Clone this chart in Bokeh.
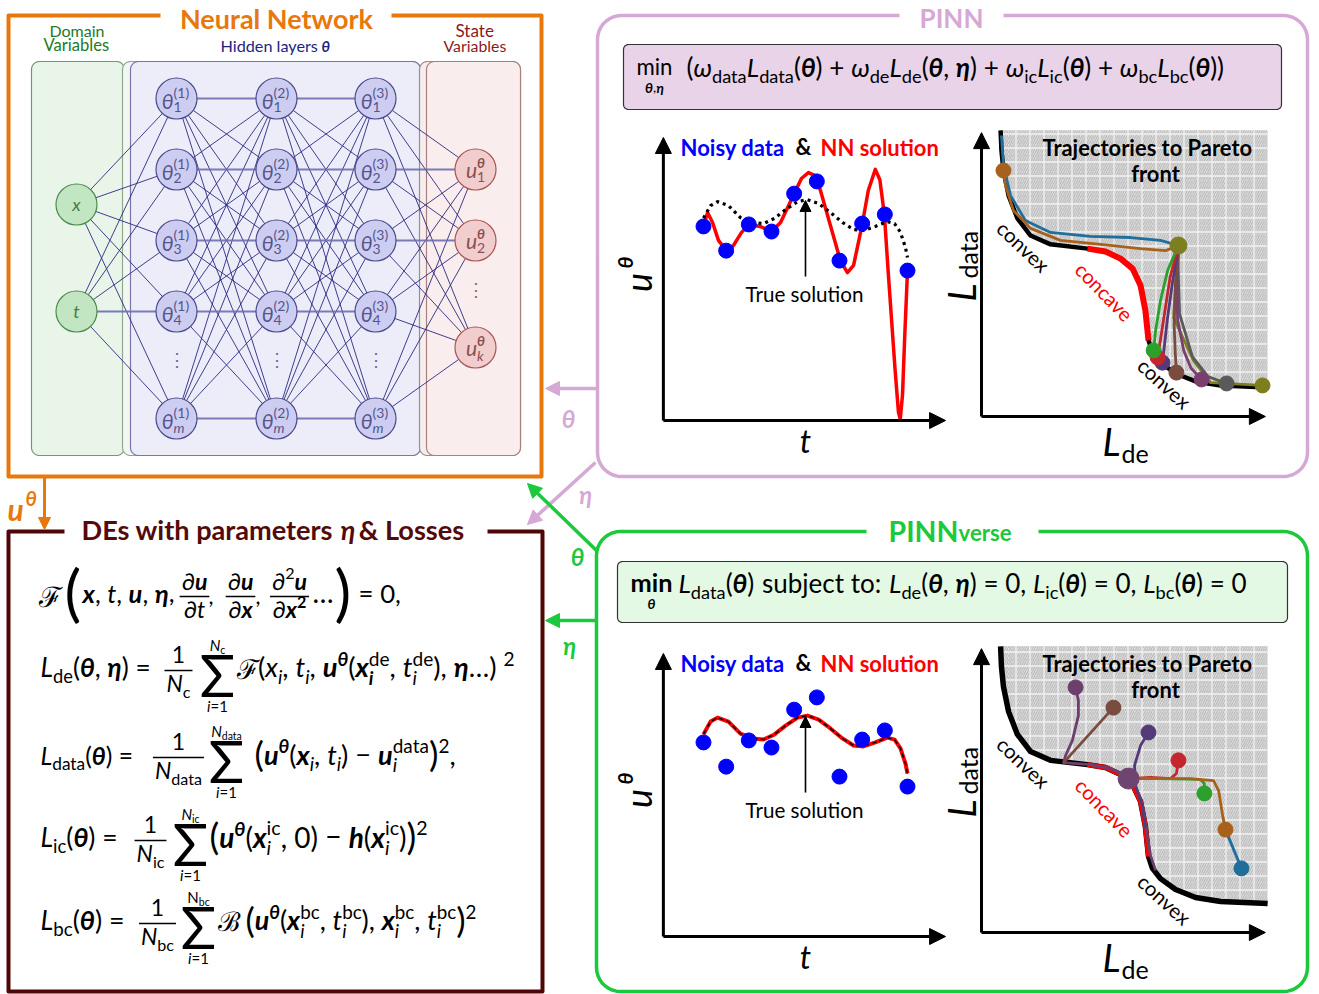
import glob
import os
import numpy as np
from bokeh.plotting import figure
from bokeh.models import Range1d, Arrow, NormalHead, ColumnDataSource
from bokeh.embed import file_html
from bokeh.resources import INLINE
from bokeh.core.properties import value, field

FONT = "Lato"
W, H, M = 1319, 994, 0

# ------------------------------------------------------------------ data
t_obs = [1, 2, 3, 4, 5, 6, 7, 8, 9, 10]
u_obs = [6.81, 5.96, 6.88, 6.63, 7.96, 8.39, 5.61, 6.91, 7.23, 5.26]

t_true = [1.00, 1.31, 1.62, 2.10, 2.63, 3.16, 3.65, 4.13, 4.62, 5.15, 5.59, 6.08,
          6.60, 7.13, 7.62, 8.06, 8.58, 9.11, 9.43, 9.69, 9.91, 10.00]
u_true = [7.10, 7.54, 7.68, 7.54, 7.12, 6.95, 6.91, 7.09, 7.40, 7.68, 7.75, 7.61,
          7.30, 6.95, 6.70, 6.67, 6.81, 6.98, 6.91, 6.60, 6.07, 5.72]

t_nn = [1.00, 1.18, 1.40, 1.66, 2.01, 2.32, 2.68, 3.02, 3.50, 4.00, 4.40, 5.00, 5.32,
        5.63, 5.90, 6.16, 6.60, 7.04, 7.35, 7.62, 8.01, 8.27, 8.58, 8.78, 8.98, 9.15,
        9.30, 9.45, 9.60, 9.68, 9.78, 9.88, 10.00]
u_nn = [6.81, 7.30, 6.95, 6.32, 5.96, 6.14, 6.60, 6.88, 6.81, 6.63, 6.95, 7.96, 8.49,
        8.70, 8.60, 8.07, 6.84, 5.61, 5.19, 5.44, 6.91, 8.07, 8.81, 8.45, 7.23, 5.20,
        3.50, 1.80, 0.30, 0.05, 0.90, 3.00, 5.26]

front_de = [0.67, 0.70, 0.77, 0.95, 1.26, 1.72, 2.42, 3.72, 4.35, 4.88,
            5.30, 5.58, 5.75, 5.86, 6.00, 6.28, 6.81, 7.51, 8.39, 10.04]
front_data = [10.04, 9.33, 8.63, 7.75, 6.95, 6.35, 6.04, 5.89, 5.79, 5.54,
              5.19, 4.60, 3.72, 2.67, 2.25, 1.89, 1.51, 1.23, 1.09, 1.02]
concave_from, concave_to = 7, 14
region_top, region_right = 10.04, 10.04

pinn_traj = [
    ("#1F6E9C", [0.70, 0.77, 1.02, 1.54, 2.42, 3.82, 5.23, 6.28, 6.91],
     [9.86, 8.81, 7.75, 6.88, 6.46, 6.32, 6.28, 6.18, 6.00], None),
    ("#A8611C", [0.77, 0.84, 1.12, 1.72, 2.77, 4.18, 5.58, 6.46, 6.91],
     [8.63, 8.11, 7.23, 6.60, 6.18, 6.04, 5.89, 5.82, 6.00], "first"),
    ("#7E7E1E", [6.91, 6.88, 6.74, 7.44, 8.04, 9.86],
     [6.00, 5.50, 3.47, 1.96, 1.19, 1.09], "last"),
    ("#5A5A5A", [6.91, 6.90, 6.95, 7.40, 7.95, 8.60],
     [6.00, 5.20, 3.60, 2.10, 1.40, 1.16], "last"),
    ("#7B3F6F", [6.91, 6.85, 6.88, 7.10, 7.35, 7.72],
     [6.00, 5.00, 3.40, 2.30, 1.70, 1.30], "last"),
    ("#7A4C40", [6.91, 6.80, 6.76, 6.80, 6.84],
     [6.00, 4.60, 3.20, 2.20, 1.54], "last"),
    ("#553A7A", [6.91, 6.70, 6.52, 6.42, 6.35],
     [6.00, 4.70, 3.40, 2.50, 1.89], "last"),
    ("#C4262E", [6.91, 6.62, 6.42, 6.28, 6.18],
     [6.00, 4.90, 3.60, 2.70, 2.07], "last"),
    ("#2CA02C", [6.91, 6.53, 6.28, 6.11, 6.04],
     [6.00, 5.12, 4.07, 3.02, 2.32], "last"),
]
pinn_start = (6.91, 6.00)

inv_traj = [
    ("#6E3F6E", [3.30, 3.40, 3.40, 3.19, 2.95, 2.88, 3.82, 4.53, 5.05, 5.40, 5.65, 5.79, 5.93, 6.11],
     [8.60, 8.14, 7.61, 6.74, 6.21, 5.96, 5.89, 5.75, 5.51, 5.16, 4.46, 3.58, 2.70, 2.18], "first"),
    ("#7A4C40", [4.63, 2.88], [7.89, 5.96], "first"),
    ("#553A7A", [5.86, 5.58, 5.37, 5.40, 5.65, 5.75], [7.02, 6.56, 5.86, 5.16, 4.46, 3.65], "first"),
    ("#C4262E", [6.91, 6.84, 6.63, 5.93, 5.16], [6.04, 5.58, 5.40, 5.44, 5.40], "first"),
    ("#2CA02C", [7.82, 7.82, 7.68, 6.28, 5.16], [4.88, 5.23, 5.37, 5.40, 5.40], "first"),
    ("#A8611C", [8.56, 8.46, 8.32, 8.14, 7.33, 5.93, 5.16], [3.61, 4.11, 4.98, 5.33, 5.40, 5.40, 5.40], "first"),
    ("#1F6E9C", [9.12, 8.56], [2.25, 3.61], "first"),
]
inv_meet = (5.16, 5.40)

NN_X = [76, 176, 276, 375, 475]
IN_ROWS, IN_NAMES = [204, 311], ["x", "t"]
HID_ROWS, HID_NAMES = [98, 169, 240, 311, 418], ["1", "2", "3", "4", "m"]
OUT_ROWS, OUT_NAMES = [169, 240, 347], ["1", "2", "k"]

ORANGE, LAV, GREEN, MAROON = "#E8780C", "#D6A8D6", "#1CC83C", "#4F0606"

# ------------------------------------------------------------------ font metrics (via Pillow)
try:
    from PIL import ImageFont
except Exception:
    ImageFont = None


def find_font(name):
    for root in ["/usr/share/fonts", "/usr/local/share/fonts", os.path.expanduser("~/.fonts"),
                 os.path.expanduser("~/.local/share/fonts")]:
        hits = glob.glob(os.path.join(root, "**", name), recursive=True)
        if hits:
            return hits[0]
    return None


FONT_FILES = {"normal": find_font("Lato-Regular.ttf"), "italic": find_font("Lato-Italic.ttf"),
              "bold": find_font("Lato-Bold.ttf"), "bold italic": find_font("Lato-BoldItalic.ttf")}
FALLBACK = {"normal": find_font("DejaVuSans.ttf"), "italic": find_font("DejaVuSans-Oblique.ttf"),
            "bold": find_font("DejaVuSans-Bold.ttf"), "bold italic": find_font("DejaVuSans-BoldOblique.ttf")}
_fc, _sup = {}, {}


def _font(path):
    if path not in _fc:
        _fc[path] = ImageFont.truetype(path, 100)
    return _fc[path]


def supports(path, ch):
    key = (path, ch)
    if key not in _sup:
        try:
            f = _font(path)
            a, b = f.getmask(ch).getbbox(), f.getmask("\U0010FFFD").getbbox()
            la, lb = f.getlength(ch), f.getlength("\U0010FFFD")
            _sup[key] = not (a == b and abs(la - lb) < 1e-6)
        except Exception:
            _sup[key] = False
    return _sup[key]


def est_w(s, size, style="normal"):
    w = 0.0
    for ch in s:
        if ch == " ":
            w += 0.2
        elif ch in "ijl.,;:'!|":
            w += 0.24
        elif ch in "()[]":
            w += 0.3
        elif ch in "ft":
            w += 0.32
        elif ch in "mwMWω":
            w += 0.75
        elif ch in "=+−":
            w += 0.58
        elif ch.isupper():
            w += 0.6
        else:
            w += 0.5
    return w * size * (1.05 if "bold" in style else 1.0)


def path_for(style, ch):
    prim = FONT_FILES.get(style)
    if ImageFont is None:
        return None
    if prim and supports(prim, ch):
        return prim
    return FALLBACK.get(style) or FALLBACK.get("normal")


def measure(s, style, size):
    total = 0.0
    for ch in s:
        pth = path_for(style, ch)
        if pth is None:
            total += est_w(ch, 100, style)
        else:
            try:
                total += _font(pth).getlength(ch)
            except Exception:
                total += est_w(ch, 100, style)
    return total * size / 100.0


def gbox(ch, style):
    pth = path_for(style, ch)
    if pth is None:
        return (0.0, -0.72, 0.5, 0.0)
    try:
        x0, y0, x1, y1 = _font(pth).getbbox(ch, anchor="ls")
        return (x0 / 100.0, y0 / 100.0, x1 / 100.0, y1 / 100.0)
    except Exception:
        return (0.0, -0.72, 0.5, 0.0)


def mid_offset(s, style):
    """distance (in em) from the alphabetic baseline up to the em-box middle"""
    pth = None
    for ch in s:
        if ch.strip():
            pth = path_for(style, ch)
            break
    if pth is None:
        return 0.387
    try:
        asc, desc = _font(pth).getmetrics()
        return (asc - desc) / 2.0 / 100.0
    except Exception:
        return 0.387


# ------------------------------------------------------------------ figure
p = figure(width=W, height=H, x_range=Range1d(M, M + W), y_range=Range1d(M + H, M),
           x_axis_type=None, y_axis_type=None, toolbar_location=None,
           output_backend="svg", min_border=0, outline_line_color=None,
           background_fill_color="white", border_fill_color="white")


def rng_x(px0, sx):
    return Range1d((M - px0) / sx, (M + W - px0) / sx)


def rng_y(py0, sy):
    return Range1d((py0 - (M + H)) / sy, (py0 - M) / sy)


p.extra_x_ranges = {"pu": rng_x(680.33, 22.667), "pL": rng_x(981.0, 28.5)}
p.extra_y_ranges = {"pinn_u": rng_y(420.0, 28.5), "inv_u": rng_y(936.0, 28.5),
                    "pinn_L": rng_y(416.0, 28.5), "inv_L": rng_y(932.0, 28.5)}

# ------------------------------------------------------------------ text helpers
TX = {k: [] for k in ["x", "y", "text", "size", "style", "color", "angle", "align", "base"]}
SEG = {"x0": [], "y0": [], "x1": [], "y1": []}
N, I, B, BI = "normal", "italic", "bold", "bold italic"


def put(x, y, s, size, color="black", style="normal", angle=0.0, align="left", base="alphabetic"):
    if base == "alphabetic":
        y = y - mid_offset(s, style) * size
        base = "middle"
    TX["x"].append(x); TX["y"].append(y); TX["text"].append(s)
    TX["size"].append("%.2fpx" % size); TX["style"].append(style); TX["color"].append(color)
    TX["angle"].append(angle); TX["align"].append(align); TX["base"].append(base)


def span_size(s, style, width):
    return width / measure(s, style, 1.0)


def put_span(x0, x1, y, s, color="black", style=N, base="alphabetic", smax=40):
    size = min(smax, span_size(s, style, x1 - x0))
    put(x0, y, s, size, color, style, base=base)
    return size


def put_box(x, ytop, ybot, ch, style=N, color="black", center=False):
    bx0, by0, bx1, by1 = gbox(ch, style)
    size = (ybot - ytop) / (by1 - by0)
    yb = ytop - by0 * size
    xl = (x - (bx0 + bx1) / 2 * size) if center else (x - bx0 * size)
    put(xl, yb, ch, size, color, style)


def run(x, y, toks, size, color="black", dry=False):
    x0 = x
    for tok in toks:
        s, st = tok[0], tok[1]
        kind = tok[2] if len(tok) > 2 else "n"
        if kind == "n":
            if not dry: put(x, y, s, size, color, st)
            x += measure(s, st, size)
        elif kind == "sp":
            x += s * size
        elif kind == "sub":
            fs = 0.7 * size
            if not dry: put(x, y + 0.22 * size, s, fs, color, st)
            x += measure(s, st, fs)
        elif kind == "sup":
            fs = 0.7 * size
            if not dry: put(x, y - 0.42 * size, s, fs, color, st)
            x += measure(s, st, fs)
        elif kind == "ss":
            fs = 0.7 * size
            if not dry:
                put(x, y + 0.26 * size, s[0], fs, color, st[0])
                put(x, y - 0.44 * size, s[1], fs, color, st[1])
            x += max(measure(s[0], st[0], fs), measure(s[1], st[1], fs))
        elif kind == "big":
            fs = 1.3 * size
            if not dry: put(x, y + 0.08 * size, s, fs, color, st)
            x += measure(s, st, fs)
    return x - x0 if dry else x


def run_fit(x0, x1, y, toks, color="black", lo=15, hi=28):
    size = (x1 - x0) / run(0, 0, toks, 1.0, dry=True)
    size = max(lo, min(hi, size))
    run(x0, y, toks, size, color)
    return size


def centered(cx, y, toks, size, color="black"):
    w = run(0, 0, toks, size, dry=True)
    run(cx - w / 2, y, toks, size, color)


def frac(cx, ybar, num, den, size, color="black"):
    wn = run(0, 0, num, size, dry=True)
    wd = run(0, 0, den, size, dry=True)
    run(cx - wn / 2, ybar - 0.3 * size, num, size, color)
    run(cx - wd / 2, ybar + 0.95 * size, den, size, color)
    hw = max(wn, wd) / 2 + 2
    SEG["x0"].append(cx - hw); SEG["x1"].append(cx + hw)
    SEG["y0"].append(ybar); SEG["y1"].append(ybar)


def bigsum(cx, ytop, ybot, above, below, lim=15):
    put_box(cx, ytop, ybot, "Σ", N, center=True)
    centered(cx, ytop - 4, above, lim)
    centered(cx, ybot + 15, below, lim)


def rr_pts(x0, y0, x1, y1, r, n=10):
    xs, ys = [], []
    for cx, cy, a0 in [(x1 - r, y0 + r, -90), (x1 - r, y1 - r, 0), (x0 + r, y1 - r, 90), (x0 + r, y0 + r, 180)]:
        for a in np.linspace(a0, a0 + 90, n):
            xs.append(cx + r * np.cos(np.radians(a)))
            ys.append(cy + r * np.sin(np.radians(a)))
    return xs, ys


def panel(x0, y0, x1, y1, r, fill, line, lw=1.2):
    xs, ys = rr_pts(x0, y0, x1, y1, r)
    p.patch(xs, ys, fill_color=fill, line_color=line, line_width=lw)


def gap_box(x0, y0, x1, y1, r, gl, gr, color, lw):
    xs, ys = rr_pts(x0, y0, x1, y1, r)
    p.line([gr] + xs + [gl], [y0] + ys + [y0], line_color=color, line_width=lw, line_join="round")


def arrow(x0, y0, x1, y1, color, lw=3.5, hs=14, xr="default", yr="default"):
    p.add_layout(Arrow(x_start=x0, y_start=y0, x_end=x1, y_end=y1, line_color=color,
                       line_width=lw, x_range_name=xr, y_range_name=yr,
                       end=NormalHead(size=hs, fill_color=color, line_color=color, line_width=1)))


def eq(op):
    return [(0.26, N, "sp"), (op, N), (0.26, N, "sp")]


# ------------------------------------------------------------------ Neural network box
gap_box(8, 15, 541, 476, 0, 160, 391, ORANGE, 4)
put(276, 28.5, "Neural Network", 27, ORANGE, B, align="center")

panel(31, 61, 124, 455, 8, "#EAF5EA", "#6F9A6F")
panel(122, 61, 420, 455, 8, "#F3F7F3", "#8FA88F")
panel(130, 61, 420, 455, 8, "#EDEDF9", "#7676A8")
panel(419, 61, 520, 455, 8, "#F6EEEE", "#A08A8A")
panel(426, 61, 520, 455, 8, "#FAEDED", "#A88080")

put_span(49, 104, 36, "Domain", "#237A23", N)
put_span(43, 110, 51, "Variables", "#237A23", N)
put_span(220, 318, 51, "Hidden layers", "#23237F", N)
put(321, 51, "θ", 15, "#23237F", BI)
put_span(455, 494, 37, "State", "#8B1A1A", N)
put_span(443, 507, 51, "Variables", "#8B1A1A", N)

layers = [IN_ROWS, HID_ROWS, HID_ROWS, HID_ROWS, OUT_ROWS]
ex, ey, hx, hy = [], [], [], []
for k in range(4):
    for a in layers[k]:
        for b in layers[k + 1]:
            if a == b:
                hx.append([NN_X[k], NN_X[k + 1]]); hy.append([a, b])
            else:
                ex.append([NN_X[k], NN_X[k + 1]]); ey.append([a, b])
p.multi_line(ex, ey, line_color="#2A2A82", line_width=1.0, line_alpha=0.9)
p.multi_line(hx, hy, line_color="#6E6EB0", line_width=2.2, line_alpha=0.9)

p.scatter([NN_X[0]] * 2, IN_ROWS, size=41, fill_color="#C2E6C2", line_color="#4C8A4C", line_width=1.2)
for c in (1, 2, 3):
    p.scatter([NN_X[c]] * 5, HID_ROWS, size=41, fill_color="#CDCDF2", line_color="#4A4A8C", line_width=1.2)
p.scatter([NN_X[4]] * 3, OUT_ROWS, size=41, fill_color="#F2CDCD", line_color="#A85555", line_width=1.2)

HC, IC, OC = "#55558E", "#4A7A4A", "#8A5050"
for r, nm in zip(IN_ROWS, IN_NAMES):
    put(NN_X[0], r + 6, nm, 18, IC, I, align="center")
for c in (1, 2, 3):
    cx = NN_X[c]
    wt = measure("θ", I, 21)
    for r, nm in zip(HID_ROWS, HID_NAMES):
        xl = cx - (wt + measure("(1)", N, 14)) / 2 - 1
        put(xl, r + 10, "θ", 21, HC, I)
        put(xl + wt, r - 1, "(%d)" % c, 14, HC, N)
        put(xl + wt, r + 14, nm, 14, HC, I if nm == "m" else N)
    put(cx, 358, "⋮", 18, "#6A6AA0", N, align="center", base="middle")
for r, nm in zip(OUT_ROWS, OUT_NAMES):
    wu = measure("u", I, 21)
    xl = NN_X[4] - (wu + measure("θ", BI, 14)) / 2
    put(xl, r + 8, "u", 21, OC, I)
    put(xl + wu, r - 2, "θ", 14, OC, BI)
    put(xl + wu, r + 13, nm, 14, OC, I if nm == "k" else N)
put(NN_X[4], 288, "⋮", 18, "#8A6A6A", N, align="center", base="middle")

# ------------------------------------------------------------------ DEs box
gap_box(8, 531, 542, 991, 0, 64, 487, MAROON, 4)
run_fit(81, 471, 539, [("DEs with parameters ", B), ("η", BI), (0.12, B, "sp"), (" & Losses", B)], "#520A0A",
        lo=18, hi=30)

# line 1
put_box(38, 584, 606, "ℱ", N)
put_box(64, 565, 623, "(", N)
run_fit(82, 174, 602, [("x", BI), (", ", N), ("t", I), (", ", N), ("u", BI), (", ", N), ("η", BI), (",", N)])
frac(194, 596, [("∂", N), ("u", BI)], [("∂", N), ("t", I)], 23)
put(208, 604, ",", 22)
frac(240, 596, [("∂", N), ("u", BI)], [("∂", N), ("x", BI)], 23)
put(255, 604, ",", 22)
frac(289, 596, [("∂", N), ("2", N, "sup"), ("u", BI)], [("∂", N), ("x", BI), ("2", B, "sup")], 23)
put_span(312, 333, 602, "…", "black", N)
put_box(334, 565, 623, ")", N)
run_fit(358, 407, 602, eq("=")[1:] + [(" 0,", N)])

# line 2: L_de
run_fit(40, 157, 677, [("L", I), ("de", N, "sub"), ("(", N), ("θ", BI), (", ", N), ("η", BI), (")", N)] + eq("="))
frac(178, 670, [("1", N)], [("N", I), ("c", N, "sub")], 23)
bigsum(217, 654, 696, [("N", I), ("c", N, "sub")], [("i", I), ("=1", N)])
run_fit(236, 514, 677, [("ℱ", N), ("(", N), ("x", I), ("i", I, "sub"), (", ", N), ("t", I), ("i", I, "sub"),
                        (", ", N), ("u", BI), ("θ", BI, "sup"), ("(", N), ("x", BI), (("i", "de"), (BI, N), "ss"),
                        (", ", N), ("t", I), (("i", "de"), (I, N), "ss"), ("), ", N), ("η", BI), (" …)", N),
                        ("2", N, "sup")])

# line 3: L_data
run_fit(40, 139, 764, [("L", I), ("data", N, "sub"), ("(", N), ("θ", BI), (")", N)] + eq("="))
frac(178, 757, [("1", N)], [("N", I), ("data", N, "sub")], 23)
bigsum(226, 740, 782, [("N", I), ("data", N, "sub")], [("i", I), ("=1", N)])
run_fit(254, 462, 764, [("(", N, "big"), ("u", BI), ("θ", BI, "sup"), ("(", N), ("x", BI), ("i", I, "sub"),
                        (", ", N), ("t", I), ("i", I, "sub"), (")", N)] + eq("−") +
        [("u", BI), (("i", "data"), (I, N), "ss"), (")", N, "big"), ("2", N, "sup"), (" ,", N)])

# line 4: L_ic
run_fit(40, 124, 847, [("L", I), ("ic", N, "sub"), ("(", N), ("θ", BI), (")", N)] + eq("="))
frac(150, 840, [("1", N)], [("N", I), ("ic", N, "sub")], 23)
bigsum(190, 823, 865, [("N", I), ("ic", N, "sub")], [("i", I), ("=1", N)])
run_fit(209, 428, 847, [("(", N, "big"), ("u", BI), ("θ", BI, "sup"), ("(", N), ("x", BI),
                        (("i", "ic"), (I, N), "ss"), (", 0)", N)] + eq("−") +
        [("h", BI), ("(", N), ("x", BI), (("i", "ic"), (I, N), "ss"), (")", N), (")", N, "big"), ("2", N, "sup")])

# line 5: L_bc
run_fit(40, 131, 930, [("L", I), ("bc", N, "sub"), ("(", N), ("θ", BI), (")", N)] + eq("="))
frac(157, 923, [("1", N)], [("N", I), ("bc", N, "sub")], 23)
bigsum(198, 906, 948, [("N", N), ("bc", N, "sub")], [("i", I), ("=1", N)])
run_fit(217, 476, 930, [("ℬ", N), (" ", N), ("(", N, "big"), ("u", BI), ("θ", BI, "sup"), ("(", N), ("x", BI),
                        (("i", "bc"), (I, N), "ss"), (", ", N), ("t", I), (("i", "bc"), (I, N), "ss"), ("), ", N),
                        ("x", BI), (("i", "bc"), (I, N), "ss"), (", ", N), ("t", I), (("i", "bc"), (I, N), "ss"),
                        (")", N, "big"), ("2", N, "sup")])

# orange u^theta arrow
arrow(44, 477, 44, 529, ORANGE, lw=3, hs=12)
put(7, 520, "u", 30, ORANGE, BI)
put(25, 505, "θ", 20, ORANGE, BI)

# ------------------------------------------------------------------ PINN box
gap_box(597, 15, 1307, 476, 24, 899, 1003, LAV, 3.5)
put(951, 27.5, "PINN", 26, LAV, B, align="center")
panel(623, 44, 1281, 109, 5, "#E8D3E8", "#333333", 1.2)
put_span(636, 672, 75, "min", "black", N)
centered(654, 92, [("θ", BI), (",", N), ("η", BI)], 14)
pinn_toks = [("(", N), ("ω", I), ("data", N, "sub"), ("L", I), ("data", N, "sub"), ("(", N), ("θ", BI), (")", N)] + \
    eq("+") + [("ω", I), ("de", N, "sub"), ("L", I), ("de", N, "sub"), ("(", N), ("θ", BI), (", ", N), ("η", BI),
               (")", N)] + \
    eq("+") + [("ω", I), ("ic", N, "sub"), ("L", I), ("ic", N, "sub"), ("(", N), ("θ", BI), (")", N)] + \
    eq("+") + [("ω", I), ("bc", N, "sub"), ("L", I), ("bc", N, "sub"), ("(", N), ("θ", BI), ("))", N)]
run_fit(686, 1268, 77, pinn_toks, lo=18, hi=26)

# ------------------------------------------------------------------ PINNverse box
gap_box(596, 531, 1307, 991, 24, 866, 1038, GREEN, 3.5)
s_p = span_size("PINN", B, 70)
put(888, 541, "PINN", s_p, GREEN, B)
put(958, 541, "verse", s_p * 0.78, GREEN, B)
panel(617, 561, 1287, 622, 5, "#E4F9E4", "#333333", 1.2)
put_span(630, 672, 591, "min", "black", B)
centered(651, 608, [("θ", BI)], 14)
inv_toks = [("L", I), ("data", N, "sub"), ("(", N), ("θ", BI), (")", N), (0.3, N, "sp"), ("subject to:", N),
            (0.3, N, "sp"), ("L", I), ("de", N, "sub"), ("(", N), ("θ", BI), (", ", N), ("η", BI), (")", N)] + \
    eq("=") + [("0, ", N), ("L", I), ("ic", N, "sub"), ("(", N), ("θ", BI), (")", N)] + eq("=") + \
    [("0, ", N), ("L", I), ("bc", N, "sub"), ("(", N), ("θ", BI), (")", N)] + eq("=") + [("0", N)]
run_fit(678, 1275, 593, inv_toks, lo=18, hi=26)

# ------------------------------------------------------------------ connecting arrows
arrow(596, 388, 545, 388, LAV)
arrow(595, 462, 527, 524, LAV)
arrow(597, 551, 527, 483, GREEN)
arrow(596, 620, 545, 620, GREEN)
put(568, 418, "θ", 24, LAV, BI, align="center", base="middle")
put(585, 494, "η", 24, LAV, BI, align="center", base="middle")
put(577, 556, "θ", 24, GREEN, BI, align="center", base="middle")
put(569, 645, "η", 24, GREEN, BI, align="center", base="middle")

# ------------------------------------------------------------------ u(t) plots
T_AX0, T_AX1, U_AX1 = -0.77, 11.68, 9.93
TRUE_ARROW = (5.5, 5.05, 7.72)
for yr, dy, pinn in (("pinn_u", 0, True), ("inv_u", 516, False)):
    arrow(T_AX0, 0, T_AX0, U_AX1, "black", lw=3, hs=16, xr="pu", yr=yr)
    arrow(T_AX0, 0, T_AX1, 0, "black", lw=3, hs=16, xr="pu", yr=yr)
    if pinn:
        p.line(t_nn, u_nn, x_range_name="pu", y_range_name=yr, line_color="#FF0000", line_width=3.5,
               line_join="round")
        p.line(t_true, u_true, x_range_name="pu", y_range_name=yr, line_color="black", line_width=3.2,
               line_dash="3 4")
    else:
        p.line(t_true, u_true, x_range_name="pu", y_range_name=yr, line_color="#FF0000", line_width=4,
               line_join="round")
        p.line(t_true, u_true, x_range_name="pu", y_range_name=yr, line_color="black", line_width=1.4,
               line_dash="5 3")
    p.scatter(t_obs, u_obs, x_range_name="pu", y_range_name=yr, size=15, fill_color="#0000FF",
              line_color="#0000FF")
    arrow(TRUE_ARROW[0], TRUE_ARROW[1], TRUE_ARROW[0], TRUE_ARROW[2], "black", lw=1.6, hs=11, xr="pu", yr=yr)
    put_span(745, 865, 301 + dy, "True solution", "black", N)
    put_span(680, 785, 155 + dy, "Noisy data", "#0000FF", B)
    put_span(795, 811, 155 + dy, "&", "black", B)
    put_span(820, 938, 155 + dy, "NN solution", "#FF0000", B)
    put(805, 440 + dy, "t", 32, "black", I, align="center", base="middle")
    put(637, 282 + dy, "u", 36, "black", I, angle=np.pi / 2, align="center", base="middle")
    put(624, 262 + dy, "θ", 21, "black", BI, angle=np.pi / 2, align="center", base="middle")

# ------------------------------------------------------------------ Pareto plots
L_AX1 = 9.96
reg_x = front_de + [region_right, front_de[0]]
reg_y = front_data + [region_top, region_top]
for yr, dy, pinn in (("pinn_L", 0, True), ("inv_L", 516, False)):
    p.patch(reg_x, reg_y, x_range_name="pL", y_range_name=yr, fill_color="#E2E2E2", line_color=None,
            hatch_pattern="/", hatch_color="#B2B2B2", hatch_scale=4.5, hatch_weight=1)
    p.patch(reg_x, reg_y, x_range_name="pL", y_range_name=yr, fill_alpha=0, line_color=None,
            hatch_pattern="+", hatch_color="#F2F2F2", hatch_scale=14, hatch_weight=1.3)
    arrow(0, 0, 0, L_AX1, "black", lw=3, hs=16, xr="pL", yr=yr)
    arrow(0, 0, L_AX1, 0, "black", lw=3, hs=16, xr="pL", yr=yr)
    p.line(front_de, front_data, x_range_name="pL", y_range_name=yr, line_color="black",
           line_width=4.5 if pinn else 5.5, line_join="round")
    p.line(front_de[concave_from:concave_to], front_data[concave_from:concave_to], x_range_name="pL",
           y_range_name=yr, line_color="#FF0000", line_width=6 if pinn else 5, line_join="round")
    trajs = pinn_traj if pinn else inv_traj
    dx, dyy, dc = [], [], []
    for col, xs, ys, dot in trajs:
        p.line(xs, ys, x_range_name="pL", y_range_name=yr, line_color=col, line_width=2.8, line_join="round")
        if dot == "first":
            dx.append(xs[0]); dyy.append(ys[0]); dc.append(col)
        elif dot == "last":
            dx.append(xs[-1]); dyy.append(ys[-1]); dc.append(col)
    p.scatter(dx, dyy, x_range_name="pL", y_range_name=yr, size=15, fill_color=dc, line_color=dc)
    if pinn:
        p.scatter([pinn_start[0]], [pinn_start[1]], x_range_name="pL", y_range_name=yr, size=17,
                  fill_color="#7E7E1E", line_color="#7E7E1E")
    else:
        p.scatter([inv_meet[0]], [inv_meet[1]], x_range_name="pL", y_range_name=yr, size=21,
                  fill_color="#6E4570", line_color="#6E4570")
    s_tr = put_span(1042, 1255, 155 + dy, "Trajectories to Pareto", "black", B)
    put(1155, 181 + dy, "front", s_tr, "black", B, align="center")
    put(1023, 246 + dy, "convex", span_size("convex", N, 64), "black", N, angle=-0.76, align="center",
        base="middle")
    put(1104, 291 + dy, "concave", span_size("concave", N, 73), "#FF0000", N, angle=-0.80, align="center",
        base="middle")
    put(1164, 383 + dy, "convex", span_size("convex", N, 64), "black", N, angle=-0.74, align="center",
        base="middle")
    put(1111, 440 + dy, "L", 38, "black", I, align="center", base="middle")
    put(1121, 452 + dy, "de", 25, "black", N, align="left", base="middle")
    put(960, 292 + dy, "L", 38, "black", I, angle=np.pi / 2, align="center", base="middle")
    put(967, 278 + dy, "data", 25, "black", N, angle=np.pi / 2, align="left", base="middle")

# ------------------------------------------------------------------ draw text & fraction bars
p.segment(x0="x0", y0="y0", x1="x1", y1="y1", source=ColumnDataSource(SEG), line_color="black", line_width=1.3)
p.text(x="x", y="y", text="text", source=ColumnDataSource(TX), text_font=value(FONT),
       text_font_size=field("size"), text_font_style=field("style"), text_color=field("color"),
       angle=field("angle"), text_align=field("align"), text_baseline=field("base"))

open("out.html", "w").write(file_html(p, INLINE, "PINN vs PINNverse"))
